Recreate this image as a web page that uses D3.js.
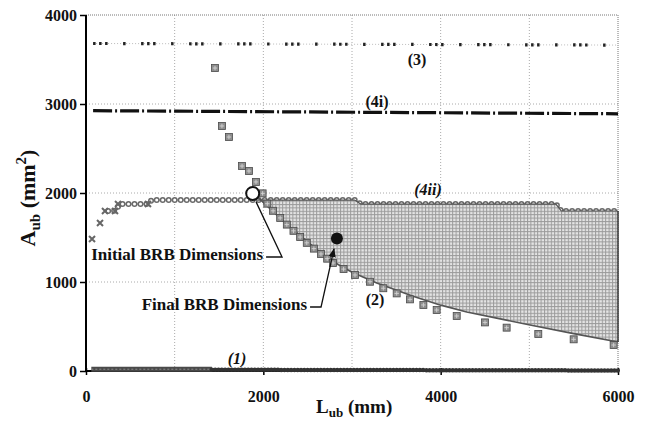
<!DOCTYPE html>
<html lang="en">
<head>
<meta charset="UTF-8">
<title>BRB design space</title>
<script src="https://d3js.org/d3.v7.min.js"></script>
<style>
  body { margin: 0; background: #fff; }
  svg { display: block; }
  text { font-family: "Liberation Serif", "Times New Roman", serif; font-weight: bold; fill: #111; }
</style>
</head>
<body>
<svg id="chart"></svg>
<script>
// ---- data (L_ub in mm, A_ub in mm^2) ----
const xTicks = [0, 2000, 4000, 6000];
const yTicks = [0, 1000, 2000, 3000, 4000];
const gridX = [1000, 2000, 3000, 4000, 5000];
const gridY = [1000, 2000, 3000];

const line1Dense = [[60, 20], [1420, 20]];
const line1 = [[1420, 14], [6000, 6]];
const line3 = [[80, 3680], [6000, 3662]];
const line4i = [[80, 2925], [6000, 2890]];
const line4iiCross = [[68, 1483], [158, 1663], [214, 1798], [327, 1798], [361, 1876], [699, 1876]];
const line4ii = [[250, 1798], [330, 1800], [380, 1876], [700, 1876], [740, 1921],
                 [3030, 1921], [3100, 1876], [5300, 1876], [5360, 1798], [6000, 1798]];
const squares2 = [[1455, 3404], [1533, 2753], [1612, 2629], [1760, 2303], [1838, 2247],
                  [1917, 2124], [1992, 1996], [2045, 1880], [2110, 1800], [2190, 1720],
                  [2265, 1645], [2340, 1575], [2415, 1505], [2490, 1440], [2570, 1375],
                  [2650, 1315], [2720, 1262], [2786, 1213], [2905, 1145], [3034, 1079],
                  [3203, 1003], [3353, 930], [3504, 872], [3654, 805], [3805, 742],
                  [3955, 685], [4181, 618], [4500, 546], [4744, 487], [5101, 416],
                  [5500, 356], [5951, 292]];
// design region (shaded)
const regionUpper = [[1930, 1921], [3030, 1921], [3100, 1876], [5300, 1876], [5360, 1798], [6000, 1798]];
const regionLower = [[1930, 1960], [2250, 1660], [2500, 1450], [2752, 1247], [3000, 1110],
                     [3279, 989], [3689, 840], [4000, 740], [4294, 663], [4700, 580],
                     [5008, 517], [5500, 420], [6000, 326]];
const initialDim = [1880, 1995];
const finalDim = [2830, 1490];

const seriesLabels = [
  { text: "(3)", x: 3733, y: 3438, italic: false },
  { text: "(4i)", x: 3282, y: 2966, italic: false },
  { text: "(4ii)", x: 3857, y: 1978, italic: true },
  { text: "(2)", x: 3260, y: 742, italic: false },
  { text: "(1)", x: 1703, y: 79, italic: true }
];

const width = 648, height = 427;
const margin = { top: 15, right: 30, bottom: 56, left: 86 };

const svg = d3.select('#chart').attr('width', width).attr('height', height);

const x = d3.scaleLinear().domain([0, 6000]).range([margin.left, width - margin.right]);
const y = d3.scaleLinear().domain([0, 4000]).range([height - margin.bottom, margin.top]);
const line = d3.line().x(d => x(d[0])).y(d => y(d[1]));

// fill pattern for the shaded region
const defs = svg.append('defs');
const pat = defs.append('pattern')
  .attr('id', 'mesh').attr('patternUnits', 'userSpaceOnUse')
  .attr('width', 3.4).attr('height', 3.4);
pat.append('rect').attr('width', 3.4).attr('height', 3.4).attr('fill', '#e4e4e4');
pat.append('rect').attr('width', 3.4).attr('height', 1).attr('fill', '#9a9a9a');
pat.append('rect').attr('width', 1).attr('height', 3.4).attr('fill', '#9a9a9a');

defs.append('marker')
  .attr('id', 'arrow').attr('viewBox', '0 0 10 10')
  .attr('refX', 9).attr('refY', 5)
  .attr('markerWidth', 7).attr('markerHeight', 7)
  .attr('orient', 'auto-start-reverse')
  .append('path').attr('d', 'M0,1L10,5L0,9z').attr('fill', '#111');

// grid
svg.append('g').selectAll('line').data(gridX).join('line')
  .attr('x1', d => x(d)).attr('x2', d => x(d))
  .attr('y1', y(4000)).attr('y2', y(0))
  .attr('stroke', '#aaa').attr('stroke-width', 1).attr('stroke-dasharray', '1 2');
svg.append('g').selectAll('line').data(gridY).join('line')
  .attr('x1', x(0)).attr('x2', x(6000))
  .attr('y1', d => y(d)).attr('y2', d => y(d))
  .attr('stroke', '#aaa').attr('stroke-width', 1).attr('stroke-dasharray', '1 2');
// dotted top / right border
svg.append('path')
  .attr('d', `M${x(0)},${y(4000)}H${x(6000)}V${y(0)}`)
  .attr('fill', 'none').attr('stroke', '#777').attr('stroke-width', 1).attr('stroke-dasharray', '1 1');

// (3) dotted line
svg.append('path').attr('d', line(line3))
  .attr('fill', 'none').attr('stroke', '#bbb').attr('stroke-width', 1).attr('stroke-dasharray', '1 2');
svg.append('path').attr('d', line(line3))
  .attr('fill', 'none').attr('stroke', '#222').attr('stroke-width', 3.2)
  .attr('stroke-dasharray', '2.5 3.5 2.5 3.5 2.5 15.5 2.5 15.5');

// (4i) dash-dot line
svg.append('path').attr('d', line(line4i))
  .attr('fill', 'none').attr('stroke', '#111').attr('stroke-width', 3.2)
  .attr('stroke-dasharray', '19 3 2 3');

// (4ii) chain of rings + crosses
svg.append('path').attr('d', line(line4ii))
  .attr('fill', 'none').attr('stroke', '#6a6a6a').attr('stroke-width', 6)
  .attr('stroke-linecap', 'round').attr('stroke-dasharray', '0 6');
svg.append('path').attr('d', line(line4ii))
  .attr('fill', 'none').attr('stroke', '#fff').attr('stroke-width', 3)
  .attr('stroke-linecap', 'round').attr('stroke-dasharray', '0 6');
svg.append('g').selectAll('path').data(line4iiCross).join('path')
  .attr('transform', d => `translate(${x(d[0])},${y(d[1])})`)
  .attr('d', 'M-3,-3L3,3M-3,3L3,-3')
  .attr('stroke', '#666').attr('stroke-width', 2);

// shaded design region
const regionPts = regionUpper.concat(regionLower.slice().reverse());
svg.append('path').attr('d', line(regionPts) + 'Z')
  .attr('fill', 'url(#mesh)').attr('stroke', 'none');
svg.append('path').attr('d', line(regionUpper))
  .attr('fill', 'none').attr('stroke', '#555').attr('stroke-width', 1.2);
svg.append('path').attr('d', line(regionLower))
  .attr('fill', 'none').attr('stroke', '#555').attr('stroke-width', 1.6);
svg.append('line')
  .attr('x1', x(6000)).attr('x2', x(6000))
  .attr('y1', y(regionUpper[regionUpper.length - 1][1])).attr('y2', y(regionLower[regionLower.length - 1][1]))
  .attr('stroke', '#333').attr('stroke-width', 1.5);

// (2) squares
const sq = svg.append('g').selectAll('g').data(squares2).join('g')
  .attr('transform', d => `translate(${x(d[0])},${y(d[1])})`);
sq.append('rect').attr('x', -3.5).attr('y', -3.5).attr('width', 7).attr('height', 7)
  .attr('fill', '#8e8e8e').attr('stroke', '#4a4a4a').attr('stroke-width', 0.8);
sq.append('path').attr('d', 'M-2.2,0H2.2M0,-2.2V2.2')
  .attr('stroke', '#d4d4d4').attr('stroke-width', 0.9);

// axes
const yAxis = svg.append('g').attr('transform', `translate(${x(0)},0)`)
  .call(d3.axisLeft(y).tickValues(yTicks).tickSize(6).tickPadding(3).tickFormat(d3.format('d')));
const xAxis = svg.append('g').attr('transform', `translate(0,${y(0)})`)
  .call(d3.axisBottom(x).tickValues(xTicks).tickSize(4).tickPadding(16).tickFormat(d3.format('d')));
[yAxis, xAxis].forEach(a => {
  a.select('.domain').attr('stroke', '#000').attr('stroke-width', 2);
  a.selectAll('.tick line').attr('stroke', '#000').attr('stroke-width', 1.5);
  a.selectAll('.tick text')
    .attr('fill', '#111').style('font-size', '16px')
    .style('font-family', '"Liberation Serif", "Times New Roman", serif').style('font-weight', 'bold');
});
yAxis.select('.domain').attr('d', `M0,${y(4000)}V${y(0)}`);
xAxis.select('.domain').attr('d', `M${x(0)},0H${x(6000)}`);
xAxis.selectAll('.tick line').attr('y1', -3);

// (1) near zero, drawn over the axis line
svg.append('path').attr('d', line(line1Dense))
  .attr('fill', 'none').attr('stroke', '#4a4a4a').attr('stroke-width', 5);
svg.append('path').attr('d', line(line1Dense))
  .attr('fill', 'none').attr('stroke', '#8a8a8a').attr('stroke-width', 1).attr('stroke-dasharray', '2 2');
svg.append('path').attr('d', line(line1))
  .attr('fill', 'none').attr('stroke', '#333').attr('stroke-width', 4.5)
  .attr('stroke-linecap', 'round').attr('stroke-dasharray', '0 3.3');

// key points
svg.append('circle').attr('cx', x(initialDim[0])).attr('cy', y(initialDim[1])).attr('r', 6.5)
  .attr('fill', '#fff').attr('stroke', '#111').attr('stroke-width', 2);
svg.append('circle').attr('cx', x(finalDim[0])).attr('cy', y(finalDim[1])).attr('r', 6)
  .attr('fill', '#111');

// annotations
const notes = [
  { text: 'Initial BRB Dimensions', end: [1997, 1247], elbow: [2211, 1281], target: [1918, 1900], arrow: false },
  { text: 'Final BRB Dimensions', end: [2493, 685], elbow: [2651, 719], target: [2797, 1371], arrow: true }
];
notes.forEach(n => {
  svg.append('text').attr('x', x(n.end[0])).attr('y', y(n.end[1]))
    .attr('text-anchor', 'end').style('font-size', '17px').text(n.text);
  svg.append('path')
    .attr('d', `M${x(n.end[0]) + 3},${y(n.elbow[1])}H${x(n.elbow[0])}L${x(n.target[0])},${y(n.target[1])}`)
    .attr('fill', 'none').attr('stroke', '#111').attr('stroke-width', 1.3)
    .attr('marker-end', n.arrow ? 'url(#arrow)' : null);
});

// series labels
svg.append('g').selectAll('text').data(seriesLabels).join('text')
  .attr('x', d => x(d.x)).attr('y', d => y(d.y))
  .attr('text-anchor', 'middle')
  .style('font-size', '16px')
  .style('font-style', d => d.italic ? 'italic' : 'normal')
  .text(d => d.text);

// axis titles
const xt = svg.append('text').attr('x', 316).attr('y', 413).style('font-size', '19px');
xt.append('tspan').text('L');
xt.append('tspan').attr('dy', 4).style('font-size', '13px').text('ub');
xt.append('tspan').attr('dy', -4).text(' (mm)');

const yt = svg.append('text')
  .attr('transform', 'translate(35,198) rotate(-90)')
  .attr('text-anchor', 'middle').style('font-size', '22px');
yt.append('tspan').text('A');
yt.append('tspan').attr('dy', 5).style('font-size', '15px').text('ub');
yt.append('tspan').attr('dy', -5).text(' (mm');
yt.append('tspan').attr('dy', -9).style('font-size', '15px').text('2');
yt.append('tspan').attr('dy', 9).text(')');
</script>
</body>
</html>
